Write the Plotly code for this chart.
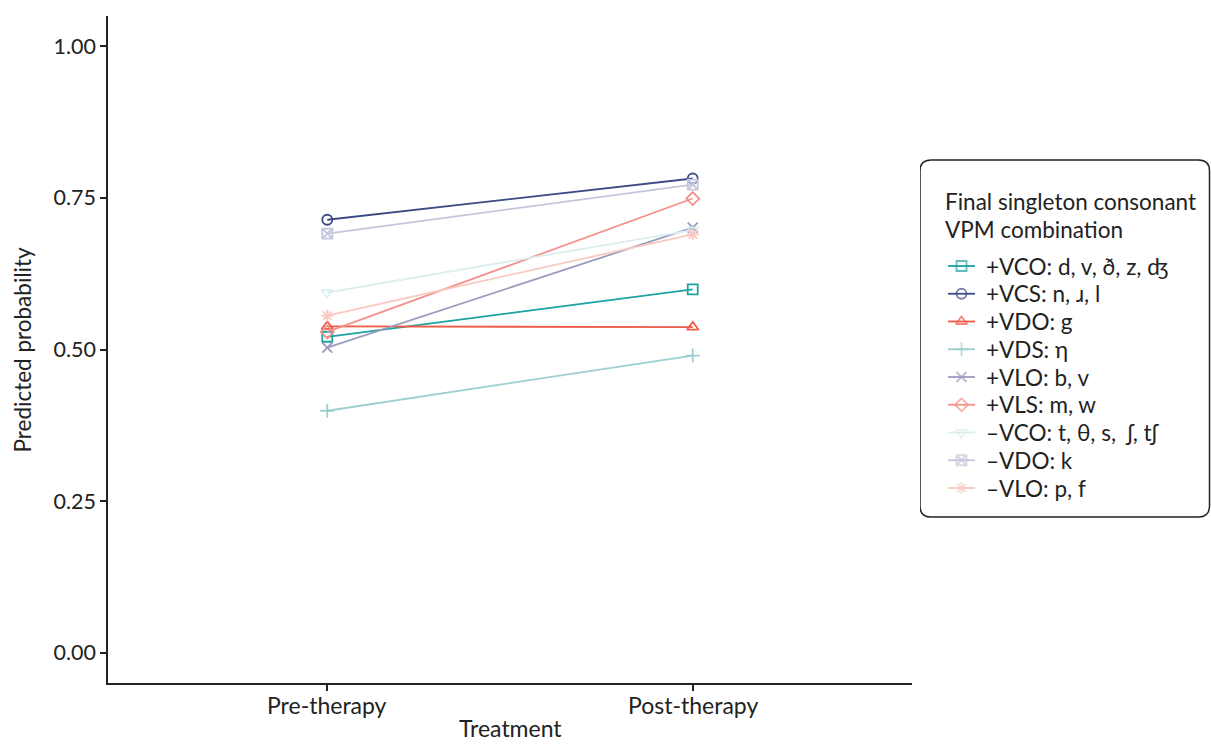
import plotly.graph_objects as go

treatments = ["Pre-therapy", "Post-therapy"]

series_names = [
    "+VCO: d, v, ð, z, ʤ",
    "+VCS: n, ɹ, l",
    "+VDO: g",
    "+VDS: η",
    "+VLO: b, v",
    "+VLS: m, w",
    "–VCO: t, θ, s,  ʃ, tʃ",
    "–VDO: k",
    "–VLO: p, f",
]
pre_values = [0.521, 0.714, 0.538, 0.399, 0.503, 0.529, 0.594, 0.691, 0.556]
post_values = [0.599, 0.782, 0.537, 0.490, 0.701, 0.749, 0.697, 0.772, 0.690]

colors = ["#1DA2A2", "#3C4B86", "#EE5B47", "#9DCFD1", "#9C9BBF",
          "#F3918A", "#DCEFF0", "#C5C6DD", "#F9C8C0"]
symbols = ["square-open", "circle-open", "triangle-up-open", "cross-thin-open",
           "x-thin-open", "diamond-open", "triangle-down-open", "square-x-open",
           "asterisk-open"]

FONT = "Lato, 'Open Sans', sans-serif"
TXT = "#222222"
W, H = 1211, 745
ML, MT, MB = 108, 16, 62
PLOT_RIGHT = 912          # right edge of the data panel, px
KEY_LEFT = 920            # left edge of the key panel, px
PW, PH = W - ML, H - MT - MB
MSIZE = 10

fig = go.Figure()
for name, a, b, c, s in zip(series_names, pre_values, post_values, colors, symbols):
    fig.add_trace(go.Scatter(
        x=treatments, y=[a, b], name=name, mode="lines+markers",
        line=dict(color=c, width=1.8),
        marker=dict(symbol=s, size=MSIZE, color=c, line=dict(color=c, width=1.8)),
        showlegend=False, xaxis="x", yaxis="y",
    ))

# category labels under the x axis
for t in treatments:
    fig.add_annotation(text=t, x=t, xref="x", y=-(705 - (H - MB)) / PH, yref="paper",
                       xanchor="center", yanchor="middle", showarrow=False,
                       font=dict(size=23, color=TXT))

# key panel: an invisible axis pair in pixel units
row_y0, row_step = 266, 27.75
for i, (name, c, s) in enumerate(zip(series_names, colors, symbols)):
    yy = row_y0 + i * row_step
    fig.add_trace(go.Scatter(
        x=[948, 961.5, 975], y=[yy, yy, yy], mode="lines+markers",
        line=dict(color=c, width=1.8),
        marker=dict(symbol=s, size=[0, MSIZE, 0], color=c, line=dict(color=c, width=1.8)),
        showlegend=False, hoverinfo="skip", xaxis="x2", yaxis="y2",
    ))
    fig.add_annotation(text=name, x=984, y=yy, xref="x2", yref="y2",
                       xanchor="left", yanchor="middle", showarrow=False,
                       font=dict(size=22.5, color=TXT))

for j, line in enumerate(["Final singleton consonant", "VPM combination"]):
    fig.add_annotation(text=line, x=943, y=201 + j * 28, xref="x2", yref="y2",
                       xanchor="left", yanchor="middle", showarrow=False,
                       font=dict(size=22.5, color=TXT))

# rounded frame around the key
x0, x1, y0, y1, r = KEY_LEFT, 1209.5, 160, 517, 11
frame = (f"M {x0+r},{y0} L {x1-r},{y0} Q {x1},{y0} {x1},{y0+r} "
         f"L {x1},{y1-r} Q {x1},{y1} {x1-r},{y1} L {x0+r},{y1} "
         f"Q {x0},{y1} {x0},{y1-r} L {x0},{y0+r} Q {x0},{y0} {x0+r},{y0} Z")
fig.add_shape(type="path", path=frame, xref="x2", yref="y2",
              line=dict(color=TXT, width=1.5))

axis_common = dict(
    showline=True, linecolor=TXT, linewidth=1.5,
    ticks="outside", ticklen=6, tickcolor=TXT, tickwidth=1.5,
    showgrid=False, zeroline=False,
)

fig.update_layout(
    width=W, height=H,
    margin=dict(l=ML, r=0, t=MT, b=MB),
    paper_bgcolor="white", plot_bgcolor="white",
    font=dict(family=FONT, size=22, color=TXT),
    showlegend=False,
    xaxis=dict(type="category", range=[-0.6, 1.6],
               domain=[0, (PLOT_RIGHT - ML) / PW],
               showticklabels=False, **axis_common),
    yaxis=dict(
        range=[-0.05, 1.05], domain=[0, 1],
        tickvals=[0, 0.25, 0.5, 0.75, 1.0],
        ticktext=["0.00", "0.25", "0.50", "0.75", "1.00"],
        tickfont=dict(size=21.5, color=TXT), **axis_common,
    ),
    xaxis2=dict(domain=[(KEY_LEFT - ML) / PW, 1], range=[KEY_LEFT, W],
                visible=False, fixedrange=True),
    yaxis2=dict(domain=[0, 1], range=[H - MB, MT], anchor="x2",
                visible=False, fixedrange=True),
)

# axis titles
fig.add_annotation(text="Treatment", xref="paper", yref="paper",
                   x=((328 + 693) / 2 - ML) / PW, y=-(728 - (H - MB)) / PH,
                   xanchor="center", yanchor="middle",
                   showarrow=False, font=dict(size=23, color=TXT))
fig.add_annotation(text="Predicted probability", xref="paper", yref="paper",
                   x=-(ML - 22) / PW, xanchor="center", y=0.5, textangle=-90,
                   showarrow=False, font=dict(size=22.5, color=TXT))

fig.write_html("out.html")
